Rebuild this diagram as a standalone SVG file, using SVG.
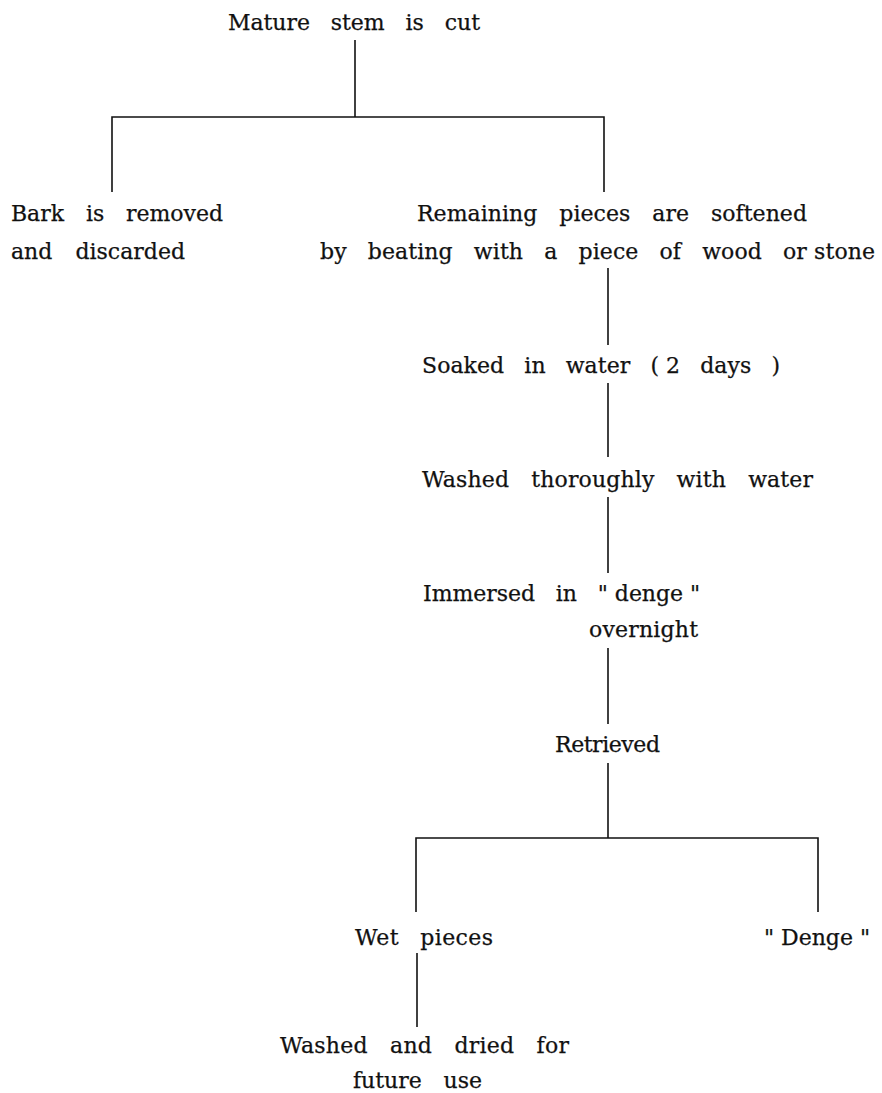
<svg xmlns="http://www.w3.org/2000/svg" width="882" height="1093" viewBox="0 0 882 1093">
<style>
text{font-family:"DejaVu Serif","Liberation Serif",serif;font-size:22px;fill:#111;stroke:#111;stroke-width:0.25}
.n{word-spacing:0}
.c{fill:none;stroke:#111;stroke-width:1.6}
</style>
<rect width="882" height="1093" fill="#fff"/>
<g id="connectors">
<path class="c" d="M355 40V117"/>
<path class="c" d="M112 192V117H604V192"/>
<path class="c" d="M608 268V345"/>
<path class="c" d="M608 383V457"/>
<path class="c" d="M608 497V573"/>
<path class="c" d="M608 648V724"/>
<path class="c" d="M608 763V838"/>
<path class="c" d="M416 912V838H818V912"/>
<path class="c" d="M417 953V1027"/>
</g>
<g id="n1"><text x="228" y="30" style="word-spacing:14px" textLength="252" lengthAdjust="spacing">Mature stem is cut</text></g>
<g id="n2"><text x="11" y="221" style="word-spacing:15px" textLength="212" lengthAdjust="spacing">Bark is removed</text><text x="11" y="259" style="word-spacing:16px" textLength="174" lengthAdjust="spacing">and discarded</text></g>
<g id="n3"><text x="417" y="221" style="word-spacing:15px" textLength="390" lengthAdjust="spacing">Remaining pieces are softened</text><text x="320" y="259" style="word-spacing:14px" textLength="555" lengthAdjust="spacing">by beating with a piece of wood <tspan class="n">or stone</tspan></text></g>
<g id="n4"><text x="422" y="373" style="word-spacing:13px" textLength="358" lengthAdjust="spacing">Soaked in water <tspan class="n">( 2</tspan> days )</text></g>
<g id="n5"><text x="422" y="487" style="word-spacing:15px" textLength="391" lengthAdjust="spacing">Washed thoroughly with water</text></g>
<g id="n6"><text x="423" y="601" style="word-spacing:14px" textLength="277" lengthAdjust="spacing">Immersed in <tspan class="n">" denge "</tspan></text><text x="589" y="637" textLength="109" lengthAdjust="spacing">overnight</text></g>
<g id="n7"><text x="555" y="752" textLength="105" lengthAdjust="spacing">Retrieved</text></g>
<g id="n8"><text x="355" y="945" style="word-spacing:14px" textLength="138" lengthAdjust="spacing">Wet pieces</text></g>
<g id="n9"><text x="764" y="945" textLength="106" lengthAdjust="spacing">" Denge "</text></g>
<g id="n10"><text x="280" y="1053" style="word-spacing:15px" textLength="289" lengthAdjust="spacing">Washed and dried for</text><text x="353" y="1088" style="word-spacing:15px" textLength="129" lengthAdjust="spacing">future use</text></g>
</svg>
